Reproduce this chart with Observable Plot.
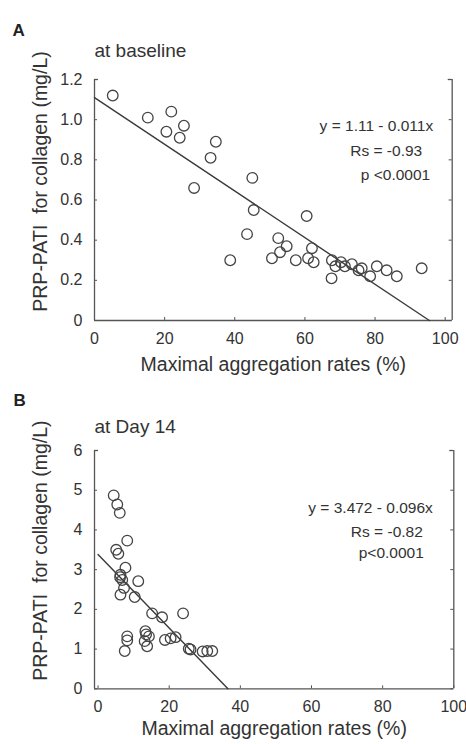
<!DOCTYPE html>
<html>
<head>
<meta charset="utf-8">
<script src="https://cdn.jsdelivr.net/npm/d3@7"></script>
<script src="https://cdn.jsdelivr.net/npm/@observablehq/plot@0.6"></script>
<style>
  html, body { margin: 0; padding: 0; background: #fff; }
  #chart svg { display: block; }
</style>
</head>
<body>
<div id="chart"></div>
<script>
// ---------- Panel A data (at baseline) ----------
const aX = [5.2, 15.2, 21.9, 20.5, 25.5, 24.3, 34.6, 33.1, 28.4, 45.0, 45.4, 43.5, 38.7,
            52.4, 52.9, 54.8, 50.6, 57.4, 60.5, 60.9, 62.0, 62.5, 67.7, 67.6, 68.7,
            70.3, 71.4, 73.4, 75.3, 76.2, 78.6, 80.5, 83.3, 86.2, 93.3];
const aY = [1.12, 1.01, 1.04, 0.94, 0.97, 0.91, 0.89, 0.81, 0.66, 0.71, 0.55, 0.43, 0.30,
            0.41, 0.34, 0.37, 0.31, 0.30, 0.52, 0.31, 0.36, 0.29, 0.30, 0.21, 0.27,
            0.29, 0.27, 0.28, 0.25, 0.26, 0.22, 0.27, 0.25, 0.22, 0.26];
const aLineX = [0, 95.5];
const aLineY = [1.11, 0];
const aXTicks = [0, 20, 40, 60, 80, 100];
const aYTicks = [0, 0.2, 0.4, 0.6, 0.8, 1.0, 1.2];
const aYTickLabels = ["0", "0.2", "0.4", "0.6", "0.8", "1.0", "1.2"];
const aNotes = ["y = 1.11 - 0.011x", "Rs = -0.93", "p <0.0001"];

// ---------- Panel B data (at Day 14) ----------
const bX = [4.4, 5.4, 6.1, 8.2, 5.1, 5.7, 7.7, 6.3, 6.2, 6.8, 7.3, 11.3, 6.3, 10.3,
            15.2, 18.0, 23.9, 8.2, 8.2, 7.5, 13.3, 13.5, 13.1, 13.8, 14.3,
            18.8, 20.4, 21.8, 25.5, 26.0, 29.4, 30.7, 32.1];
const bY = [4.87, 4.64, 4.43, 3.73, 3.50, 3.40, 3.05, 2.87, 2.81, 2.74, 2.54, 2.71, 2.37, 2.31,
            1.90, 1.80, 1.90, 1.32, 1.22, 0.95, 1.45, 1.37, 1.20, 1.07, 1.32,
            1.23, 1.27, 1.30, 1.01, 0.99, 0.94, 0.95, 0.95];
const bLineX = [0, 36.5];
const bLineY = [3.38, 0];
const bXTicks = [0, 20, 40, 60, 80, 100];
const bYTicks = [0, 1, 2, 3, 4, 5, 6];
const bYTickLabels = ["0", "1", "2", "3", "4", "5", "6"];
const bNotes = ["y = 3.472 - 0.096x", "Rs = -0.82", "p<0.0001"];

// ---------- shared text ----------
const panelLetters = ["A", "B"];
const subtitles = ["at baseline", "at Day 14"];
const xLabel = "Maximal aggregation rates (%)";
const yLabel = "PRP-PATI\u00a0 for collagen (mg/L)";

const FONT = "'Liberation Sans', Arial, Helvetica, sans-serif";
const INK = "#333";

function panel(cfg) {
  const W = 466, H = 372;
  const plotW = W - cfg.ml - cfg.mr;
  const plotH = H - cfg.mt - cfg.mb;
  const fmtY = d => cfg.yLabels[cfg.yTicks.indexOf(d)];
  const marks = [
    // frame: left, right, bottom + short top stubs
    Plot.ruleX([cfg.xDomain[0], cfg.xDomain[1]], {x: d => d, stroke: "#555", strokeWidth: 1.3}),
    Plot.ruleY([cfg.yDomain[0]], {y: d => d, stroke: "#555", strokeWidth: 1.3}),
    Plot.ruleY([cfg.yDomain[1]], {y: d => d, stroke: "#555", strokeWidth: 1.3, insetRight: plotW - 4}),
    Plot.ruleY([cfg.yDomain[1]], {y: d => d, stroke: "#555", strokeWidth: 1.3, insetLeft: plotW - 4}),
    // inward ticks
    Plot.ruleX(cfg.xTicks, {x: d => d, stroke: "#555", strokeWidth: 1, insetTop: plotH - 3}),
    Plot.ruleY(cfg.yTicks, {y: d => d, stroke: "#555", strokeWidth: 1, insetLeft: plotW - 3}),
    Plot.ruleY(cfg.yTicks, {y: d => d, stroke: "#555", strokeWidth: 1, insetRight: plotW - 3}),
    // axes (labels only)
    Plot.axisX(cfg.xTicks, {tickSize: 0, tickPadding: 12, label: null, fontSize: 16}),
    Plot.axisY(cfg.yTicks, {tickSize: 0, tickPadding: 12, label: null, tickFormat: fmtY, fontSize: 16}),
    // regression line
    Plot.line(cfg.lineX, {x: cfg.lineX, y: cfg.lineY, stroke: "#3a3a3a", strokeWidth: 1.4}),
    // data
    Plot.dot(cfg.px, {x: cfg.px, y: cfg.py, r: 5.3, stroke: "#444", strokeWidth: 1.3, fill: "none"}),
    // annotations
    ...cfg.notes.map((t, i) => Plot.text([t], {
      text: d => d, frameAnchor: "top-right", textAnchor: "end", lineAnchor: "middle",
      dx: cfg.noteDx[i], dy: cfg.noteDy[i], fontSize: 15.5, fill: INK
    })),
    // panel letter
    Plot.text([cfg.letter], {text: d => d, frameAnchor: "top-left", textAnchor: "start", lineAnchor: "bottom",
      dx: cfg.letterDx, dy: cfg.letterDy, fontSize: 17, fontWeight: "bold", fill: "#222"}),
    // subtitle
    Plot.text([cfg.subtitle], {text: d => d, frameAnchor: "top-left", textAnchor: "start", lineAnchor: "bottom",
      dx: 0, dy: cfg.subDy, fontSize: 19, fill: INK}),
    // x label
    Plot.text([xLabel], {text: d => d, frameAnchor: "bottom", textAnchor: "middle", lineAnchor: "bottom",
      dy: cfg.xLabDy, fontSize: 19.5, fill: INK}),
    // y label
    Plot.text([yLabel], {text: d => d, frameAnchor: "left", textAnchor: "middle", lineAnchor: "middle",
      rotate: -90, dx: -54, dy: cfg.yLabDy, fontSize: 19.5, fill: INK})
  ];
  return Plot.plot({
    width: W, height: H,
    marginLeft: cfg.ml, marginRight: cfg.mr, marginTop: cfg.mt, marginBottom: cfg.mb,
    x: {domain: cfg.xDomain, label: null},
    y: {domain: cfg.yDomain, label: null},
    style: {fontFamily: FONT, fontSize: "16px", color: INK, background: "#fff", overflow: "visible"},
    marks
  });
}

const figA = panel({
  ml: 94, mr: 14.3, mt: 79, mb: 52,
  xDomain: [0, 102], yDomain: [0, 1.2],
  xTicks: aXTicks, yTicks: aYTicks, yLabels: aYTickLabels,
  px: aX, py: aY, lineX: aLineX, lineY: aLineY,
  notes: aNotes, noteDx: [-19, -30, -22], noteDy: [47, 72, 96],
  letter: panelLetters[0], letterDx: -82, letterDy: -44,
  subtitle: subtitles[0], subDy: -23,
  xLabDy: 50, yLabDy: -18.5
});
const figB = panel({
  ml: 94, mr: 12.7, mt: 78, mb: 55.7,
  xDomain: [-1, 100], yDomain: [0, 6],
  xTicks: bXTicks, yTicks: bYTicks, yLabels: bYTickLabels,
  px: bX, py: bY, lineX: bLineX, lineY: bLineY,
  notes: bNotes, noteDx: [-21, -31, -30], noteDy: [58, 82, 103],
  letter: panelLetters[1], letterDx: -81, letterDy: -45,
  subtitle: subtitles[1], subDy: -18,
  xLabDy: 46, yLabDy: -19
});
document.getElementById("chart").append(figA, figB);
</script>
</body>
</html>
